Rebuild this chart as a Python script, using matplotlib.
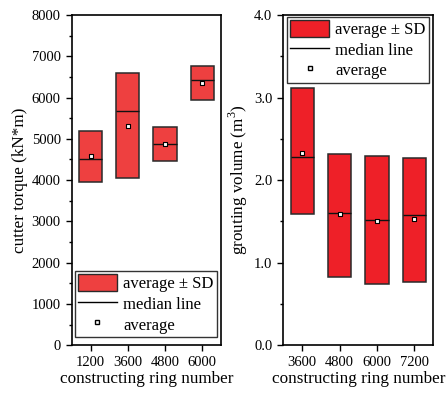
import matplotlib
matplotlib.use("Agg")
import matplotlib.pyplot as plt
from matplotlib.patches import Patch
from matplotlib.lines import Line2D
from matplotlib.ticker import MultipleLocator

plt.rcParams["font.family"] = ["Liberation Serif", "DejaVu Serif"]
plt.rcParams["mathtext.fontset"] = "custom"
plt.rcParams["mathtext.rm"] = "Liberation Serif"

# cutter torque data
torque_rings = ["1200", "3600", "4800", "6000"]
torque_low = [3950, 4040, 4450, 5935]
torque_high = [5195, 6600, 5285, 6755]
torque_median = [4520, 5675, 4875, 6435]
torque_mean = [4585, 5320, 4870, 6350]

# grouting volume data
grout_rings = ["3600", "4800", "6000", "7200"]
grout_low = [1.59, 0.83, 0.74, 0.77]
grout_high = [3.12, 2.32, 2.29, 2.27]
grout_median = [2.28, 1.60, 1.52, 1.58]
grout_mean = [2.33, 1.59, 1.50, 1.53]


def draw_panel(ax, labels, low, high, med, mean, color):
    x = list(range(1, len(labels) + 1))
    w = 0.62
    heights = [h - l for h, l in zip(high, low)]
    ax.bar(x, heights, bottom=low, width=w, color=color,
           edgecolor="#2a2a2a", linewidth=1.1, zorder=2)
    ax.hlines(med, [i - w / 2 for i in x], [i + w / 2 for i in x],
              color="#111111", linewidth=1.0, zorder=3)
    ax.scatter(x, mean, marker="s", s=10, facecolor="white",
               edgecolor="black", linewidth=0.8, zorder=4)
    ax.set_xticks(x)
    ax.set_xticklabels(labels)
    ax.set_xlim(0.5, len(labels) + 0.5)
    ax.tick_params(axis="both", which="both", direction="out",
                   labelsize=10.5, width=1.0)
    ax.tick_params(which="major", length=4.5)
    ax.tick_params(which="minor", length=2.5)
    for s in ax.spines.values():
        s.set_linewidth(1.2)
    ax.set_xlabel("constructing ring number", fontsize=12.3, labelpad=1)
    handles = [
        Patch(facecolor=color, edgecolor="#2a2a2a", linewidth=1.0),
        Line2D([], [], color="black", linewidth=1.0),
        Line2D([], [], marker="s", markersize=3.5, markerfacecolor="white",
               markeredgecolor="black", linestyle="none"),
    ]
    return handles


fig = plt.figure(figsize=(4.47, 3.94), dpi=100)
ax1 = fig.add_axes([0.161, 0.124, 0.333, 0.838])
ax2 = fig.add_axes([0.634, 0.124, 0.335, 0.838])

legend_kw = dict(fontsize=12, frameon=True, fancybox=False,
                 edgecolor="black", handlelength=2.3, handleheight=1.2,
                 labelspacing=0.15, borderpad=0.2, handletextpad=0.4)

h1 = draw_panel(ax1, torque_rings, torque_low, torque_high, torque_median,
                torque_mean, "#ee4040")
ax1.set_ylim(0, 8000)
ax1.yaxis.set_major_locator(MultipleLocator(1000))
ax1.yaxis.set_minor_locator(MultipleLocator(500))
ax1.set_ylabel("cutter torque (kN*m)", fontsize=12.3, labelpad=3)
ax1.legend(h1, ["average \u00b1 SD", "median line", "average"],
           loc="lower left", bbox_to_anchor=(0.02, 0.025),
           borderaxespad=0.0, **legend_kw)

h2 = draw_panel(ax2, grout_rings, grout_low, grout_high, grout_median,
                grout_mean, "#ee2028")
ax2.set_ylim(0, 4.0)
ax2.yaxis.set_major_locator(MultipleLocator(1.0))
ax2.yaxis.set_minor_locator(MultipleLocator(0.5))
ax2.yaxis.set_major_formatter(matplotlib.ticker.FormatStrFormatter("%.1f"))
ax2.set_ylabel("grouting volume (m$^3$)", fontsize=12.3, labelpad=3)
ax2.legend(h2, ["average \u00b1 SD", "median line", "average"],
           loc="upper left", bbox_to_anchor=(0.025, 0.995),
           borderaxespad=0.0, **legend_kw)

for lg in (ax1.get_legend(), ax2.get_legend()):
    lg.get_frame().set_linewidth(1.0)

fig.savefig("out.png", dpi=100)
plt.close(fig)
